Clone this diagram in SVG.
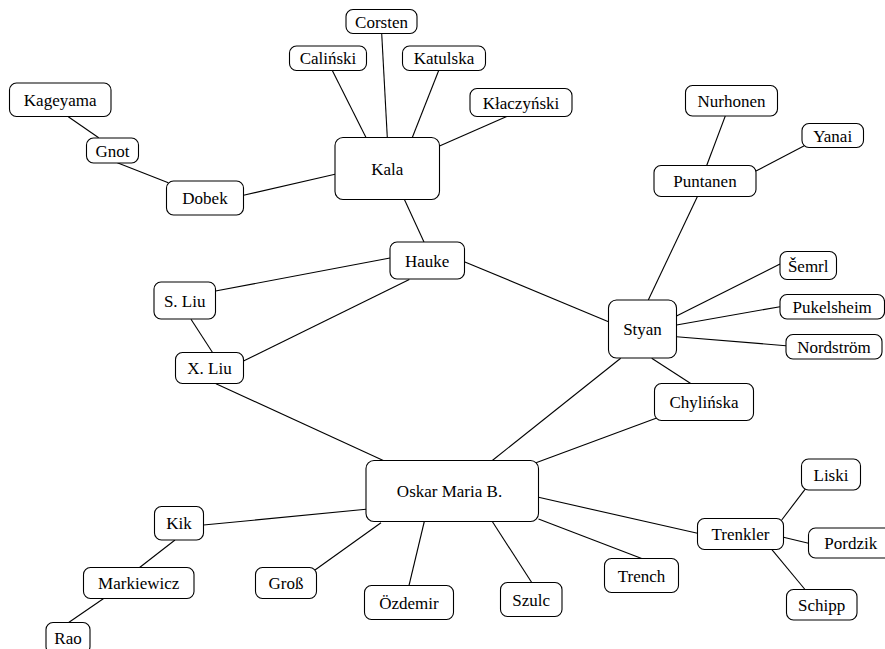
<svg xmlns="http://www.w3.org/2000/svg" width="885" height="649" viewBox="0 0 885 649" font-family="'Liberation Serif', 'Times New Roman', Times, serif" font-size="17">
<style>
.n rect{fill:#fff;stroke:#000;stroke-width:1.1}
text{font-family:'Liberation Serif','Times New Roman',Times,serif;font-size:17px;text-anchor:middle;fill:#000}
#edges line{stroke:#000;stroke-width:1.1}
</style>
<rect width="885" height="649" fill="#fff"/>
<g id="edges">
<line x1="68.3" y1="116.7" x2="98.7" y2="137.7"/>
<line x1="117.3" y1="162.7" x2="168.3" y2="182.7"/>
<line x1="243.5" y1="195.3" x2="335" y2="174.3"/>
<line x1="332.3" y1="70.5" x2="366" y2="137.5"/>
<line x1="381.7" y1="33.5" x2="387.3" y2="137.5"/>
<line x1="438.7" y1="70.5" x2="412.3" y2="137.5"/>
<line x1="506.7" y1="116.5" x2="439.5" y2="146"/>
<line x1="404.3" y1="199.3" x2="424" y2="242"/>
<line x1="390" y1="258" x2="215.5" y2="291"/>
<line x1="409.3" y1="279.5" x2="243.5" y2="361"/>
<line x1="191" y1="319.3" x2="212.7" y2="352.7"/>
<line x1="216" y1="383.7" x2="383.3" y2="460.5"/>
<line x1="464.3" y1="261.7" x2="608.5" y2="321.7"/>
<line x1="725.3" y1="116" x2="706.7" y2="165.5"/>
<line x1="804.3" y1="145.7" x2="756" y2="171"/>
<line x1="697.3" y1="196.7" x2="648.3" y2="300"/>
<line x1="780" y1="264" x2="676.5" y2="316"/>
<line x1="780" y1="306.7" x2="676.5" y2="325"/>
<line x1="786" y1="345.7" x2="676.5" y2="336.7"/>
<line x1="620.7" y1="358.3" x2="492.3" y2="460.5"/>
<line x1="651.7" y1="358.3" x2="690.7" y2="383.5"/>
<line x1="656.7" y1="418" x2="536" y2="462.7"/>
<line x1="538.5" y1="497.3" x2="697.5" y2="533.3"/>
<line x1="538.5" y1="519" x2="641.7" y2="558.5"/>
<line x1="492.3" y1="521.5" x2="531.7" y2="582.5"/>
<line x1="424.3" y1="521.5" x2="409" y2="585.5"/>
<line x1="381" y1="522.7" x2="315" y2="570"/>
<line x1="366" y1="509.3" x2="203.5" y2="525"/>
<line x1="175" y1="540" x2="139.3" y2="567.7"/>
<line x1="104" y1="598.3" x2="68.3" y2="622.7"/>
<line x1="781.7" y1="520" x2="805" y2="489.3"/>
<line x1="783.5" y1="537.3" x2="808.5" y2="543.3"/>
<line x1="771.7" y1="549.3" x2="805" y2="589.5"/>
</g>
<g id="kageyama" class="n"><rect x="9.5" y="83" width="101.5" height="33.5" rx="7"/><text x="60.2" y="105.8">Kageyama</text></g>
<g id="gnot" class="n"><rect x="86.5" y="138" width="52" height="25" rx="7"/><text x="112.5" y="156.5">Gnot</text></g>
<g id="dobek" class="n"><rect x="166.5" y="181" width="77" height="34" rx="7"/><text x="205" y="204">Dobek</text></g>
<g id="corsten" class="n"><rect x="346" y="9.5" width="71" height="24" rx="7"/><text x="381.5" y="27.5">Corsten</text></g>
<g id="calinski" class="n"><rect x="289.5" y="46" width="77" height="24.5" rx="7"/><text x="328" y="64">Caliński</text></g>
<g id="katulska" class="n"><rect x="402.5" y="46" width="83" height="24.5" rx="7"/><text x="444" y="64">Katulska</text></g>
<g id="klaczynski" class="n"><rect x="470" y="88.5" width="102" height="28" rx="7"/><text x="521" y="108.5">Kłaczyński</text></g>
<g id="kala" class="n"><rect x="335" y="137.5" width="104.5" height="62" rx="8"/><text x="387.2" y="174.5">Kala</text></g>
<g id="hauke" class="n"><rect x="390" y="242" width="74.5" height="37" rx="7"/><text x="427.2" y="266.5">Hauke</text></g>
<g id="sliu" class="n"><rect x="154" y="282" width="61.5" height="37" rx="7"/><text x="184.7" y="306.5">S. Liu</text></g>
<g id="xliu" class="n"><rect x="175.5" y="352.5" width="68" height="31" rx="7"/><text x="209.5" y="374">X. Liu</text></g>
<g id="nurhonen" class="n"><rect x="685.5" y="85.5" width="92" height="30.5" rx="7"/><text x="731.5" y="106.5">Nurhonen</text></g>
<g id="yanai" class="n"><rect x="802" y="123.5" width="61.5" height="24" rx="7"/><text x="832.7" y="141.5">Yanai</text></g>
<g id="puntanen" class="n"><rect x="654" y="165.5" width="102" height="31" rx="7"/><text x="705" y="187">Puntanen</text></g>
<g id="semrl" class="n"><rect x="780" y="251.5" width="56.5" height="28" rx="7"/><text x="808.2" y="271.5">Šemrl</text></g>
<g id="pukelsheim" class="n"><rect x="780" y="294.5" width="104.5" height="24.5" rx="7"/><text x="832.2" y="312.5">Pukelsheim</text></g>
<g id="nordstrom" class="n"><rect x="786" y="334.5" width="96" height="24.5" rx="7"/><text x="834" y="352.5">Nordström</text></g>
<g id="styan" class="n"><rect x="608.5" y="300" width="68" height="58" rx="8"/><text x="642.5" y="335">Styan</text></g>
<g id="chylinska" class="n"><rect x="654.5" y="383.5" width="99" height="37" rx="7"/><text x="704" y="408">Chylińska</text></g>
<g id="oskar" class="n"><rect x="366" y="460.5" width="172.5" height="61" rx="8"/><text x="449.5" y="497">Oskar Maria B.</text></g>
<g id="trenkler" class="n"><rect x="697.5" y="518.5" width="86" height="31" rx="7"/><text x="740.5" y="540">Trenkler</text></g>
<g id="liski" class="n"><rect x="801.5" y="459" width="59" height="31" rx="7"/><text x="831" y="480.5">Liski</text></g>
<g id="pordzik" class="n"><rect x="808.5" y="528" width="84.5" height="30" rx="7"/><text x="850.8" y="549">Pordzik</text></g>
<g id="schipp" class="n"><rect x="786.5" y="589.5" width="70.5" height="30.5" rx="7"/><text x="821.7" y="610.5">Schipp</text></g>
<g id="trench" class="n"><rect x="604.5" y="558.5" width="74" height="34" rx="7"/><text x="641.5" y="581.5">Trench</text></g>
<g id="szulc" class="n"><rect x="500.5" y="582.5" width="61.5" height="34" rx="7"/><text x="531.2" y="605.5">Szulc</text></g>
<g id="ozdemir" class="n"><rect x="364.5" y="585.5" width="89" height="34" rx="7"/><text x="409" y="608.5">Özdemir</text></g>
<g id="gross" class="n"><rect x="255.5" y="567.5" width="61" height="31" rx="7"/><text x="286" y="589">Groß</text></g>
<g id="kik" class="n"><rect x="154.5" y="506.5" width="49" height="33.5" rx="7"/><text x="179" y="529.3">Kik</text></g>
<g id="markiewicz" class="n"><rect x="83.5" y="567.5" width="110.5" height="31" rx="7"/><text x="138.7" y="589">Markiewicz</text></g>
<g id="rao" class="n"><rect x="46" y="622.5" width="44" height="31" rx="7"/><text x="68" y="644">Rao</text></g>
</svg>
